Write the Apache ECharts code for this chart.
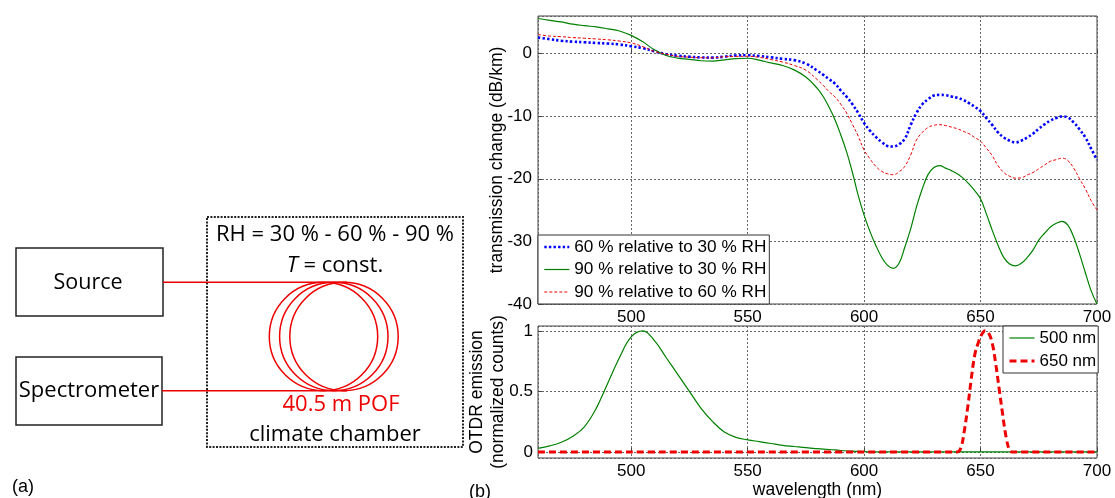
<!DOCTYPE html>
<html>
<head>
<meta charset="utf-8">
<script src="https://cdn.jsdelivr.net/npm/echarts@6/dist/echarts.min.js"></script>
<style>
html,body{margin:0;padding:0;background:#fff;}
#chart{width:1115px;height:498px;}
</style>
</head>
<body>
<div id="chart"></div>
<script>
// ---------- data ----------
const wavelength = [460,465,470,475,480,485,490,495,500,505,510,515,520,525,530,535,540,545,550,555,
  560,565,570,575,580,
  582.5,585,587.5,590,592.5,595,597.5,600,602.5,605,607.5,610,612.5,615,617.5,620,622.5,625,627.5,630,
  632.5,635,637.5,640,642.5,645,647.5,650,652.5,655,657.5,660,662.5,665,667.5,670,672.5,675,677.5,680,
  682.5,685,687.5,690,692.5,695,697.5,700];

const rel60to30 = [2.56,2.3,2.05,1.9,1.8,1.7,1.6,1.45,1.17,0.85,0.35,-0.1,-0.34,-0.5,-0.62,-0.65,-0.5,-0.3,-0.27,-0.4,
  -0.6,-0.85,-1.05,-1.6,-2.75,
  -3.4,-4.1,-4.8,-5.9,-6.9,-8.1,-9.5,-11.1,-12.3,-13.3,-14.1,-14.75,-14.85,-14.5,-13.6,-11.4,-9.5,-8.1,-7.3,-6.7,
  -6.6,-6.65,-6.85,-7.05,-7.4,-7.9,-8.5,-9.2,-10.3,-11.4,-12.6,-13.4,-13.9,-14.2,-13.9,-13.4,-12.8,-12.0,-11.3,-10.7,
  -10.3,-10.05,-10.2,-11.0,-12.1,-13.4,-15.2,-17.0];

const rel90to30 = [5.6,5.3,5.05,4.7,4.45,4.25,3.95,3.6,2.9,1.87,0.6,-0.3,-0.72,-0.92,-1.15,-1.2,-1.0,-0.8,-0.75,-1.05,
  -1.5,-1.9,-2.6,-3.75,-5.6,
  -6.9,-8.6,-10.56,-13.0,-15.7,-19.0,-22.7,-25.8,-28.4,-30.6,-32.5,-33.8,-34.3,-33.5,-30.9,-28.0,-24.5,-21.6,-19.3,-18.2,
  -17.9,-18.3,-18.7,-19.2,-19.9,-20.8,-21.9,-23.2,-25.6,-28.2,-30.6,-32.6,-33.6,-33.9,-33.5,-32.6,-31.4,-29.8,-28.7,-27.7,
  -27.1,-26.8,-27.4,-29.3,-32.0,-35.0,-37.9,-40.0];

const rel90to60 = [3.04,2.8,2.7,2.55,2.45,2.33,2.2,2.0,1.7,1.1,0.35,-0.1,-0.45,-0.57,-0.67,-0.68,-0.5,-0.45,-0.43,-0.6,
  -0.95,-1.35,-1.9,-2.65,-4.2,
  -5.1,-6.1,-6.93,-8.1,-9.5,-11.3,-13.2,-15.4,-16.8,-18.0,-18.8,-19.2,-19.35,-18.9,-18.0,-16.2,-13.8,-12.6,-11.8,-11.45,
  -11.36,-11.5,-11.75,-12.0,-12.4,-12.8,-13.4,-14.0,-15.1,-16.3,-17.9,-19.0,-19.6,-19.9,-19.85,-19.4,-19.0,-18.4,-17.8,-17.2,
  -16.95,-16.7,-17.1,-18.3,-20.0,-21.6,-23.5,-25.0];

const otdr500Wl = [460,465,470,475,480,485,490,495,500,505,510,515,520,525,530,535,540,545,550,555,
  560,565,570,575,580,585,590,595,600,605,700];
const otdr500 = [0.03,0.05,0.08,0.13,0.21,0.36,0.57,0.78,0.95,1.0,0.92,0.78,0.64,0.5,0.36,0.25,0.165,0.12,0.1,0.085,
  0.07,0.055,0.045,0.035,0.027,0.02,0.012,0.006,0.003,0,0];

const otdr650Wl = [460,640,641.5,643,644.5,646,647.5,649,650.5,652,653.5,655,656.5,658,659.5,661,662.5,663.5,700];
const otdr650 =   [0,0,0.03,0.17,0.37,0.6,0.8,0.9,0.97,1.0,0.98,0.9,0.73,0.52,0.31,0.12,0.01,0,0];

const topNames = ['60 % relative to 30 % RH','90 % relative to 30 % RH','90 % relative to 60 % RH'];
const bottomNames = ['500 nm','650 nm'];
const topYTitle = 'transmission change (dB/km)';
const bottomYTitle = 'OTDR emission\n(normalized counts)';
const xTitle = 'wavelength (nm)';

// ---------- chart ----------
const pair = (xs, ys) => xs.map((x, i) => [x, ys[i]]);
const FONT = "'Liberation Sans', Arial, sans-serif";
const DFONT = "'Open Sans', Lato, sans-serif";
const RED = '#ee0000';

const chart = echarts.init(document.getElementById('chart'), null, {renderer: 'canvas'});

const gridLine = {show: true, lineStyle: {color: '#666', type: [2, 2], width: 1}};
const tick = {show: true, inside: true, length: 4, lineStyle: {color: '#444'}};
const axisLbl = (extra) => Object.assign({color: '#000', fontFamily: FONT, fontSize: 17, margin: 4,
  showMinLabel: false, showMaxLabel: true}, extra || {});
const lineSeries = (name, xi, xs, ys, color, width, type) => ({
  name, type: 'line', xAxisIndex: xi, yAxisIndex: xi, data: pair(xs, ys),
  symbol: 'none', smooth: 0.4, color: color,
  lineStyle: {color: color, width: width, type: type}
});

const option = {
  animation: false,
  backgroundColor: '#fff',
  grid: [
    {left: 538, top: 16, width: 559, height: 288, show: true, borderColor: '#444', borderWidth: 1,
     containLabel: false, outerBoundsMode: 'none'},
    {left: 538, top: 326, width: 559, height: 132, show: true, borderColor: '#444', borderWidth: 1,
     containLabel: false, outerBoundsMode: 'none'}
  ],
  xAxis: [
    {type: 'value', gridIndex: 0, min: 460, max: 700, splitNumber: 5,
     axisLine: {show: false}, axisTick: tick, axisLabel: axisLbl({margin: 5}), splitLine: gridLine},
    {type: 'value', gridIndex: 1, min: 460, max: 700, splitNumber: 5,
     axisLine: {show: false}, axisTick: tick, axisLabel: axisLbl({margin: 5}), splitLine: gridLine,
     name: xTitle, nameLocation: 'middle', nameGap: 22,
     nameTextStyle: {color: '#000', fontFamily: FONT, fontSize: 17.5}}
  ],
  yAxis: [
    {type: 'value', gridIndex: 0, min: -40, max: 6, splitNumber: 5,
     axisLine: {show: false}, axisTick: tick,
     axisLabel: axisLbl({margin: 6, showMinLabel: true, showMaxLabel: false}), splitLine: gridLine,
     name: topYTitle, nameLocation: 'middle', nameGap: 32, nameMoveOverlap: false,
     nameTextStyle: {color: '#000', fontFamily: FONT, fontSize: 17.5}},
    {type: 'value', gridIndex: 1, min: -0.05, max: 1.04, splitNumber: 2,
     axisLine: {show: false}, axisTick: tick,
     axisLabel: axisLbl({margin: 5, showMinLabel: false, showMaxLabel: false,
       formatter: v => (Math.abs(v) < 1e-9 ? '0' : String(v))}),
     splitLine: gridLine,
     name: bottomYTitle, nameLocation: 'middle', nameGap: 29, nameMoveOverlap: false,
     nameTextStyle: {color: '#000', fontFamily: FONT, fontSize: 17.5, lineHeight: 21}}
  ],
  legend: [
    {data: topNames, orient: 'vertical', left: 538, top: 235, itemGap: 4.5, itemWidth: 25, itemHeight: 14,
     padding: [3, 3, 3, 5], borderColor: '#333', borderWidth: 1, borderRadius: 0, backgroundColor: '#fff',
     selectedMode: false, itemStyle: {opacity: 0}, lineStyle: {width: 'inherit'},
     textStyle: {color: '#000', fontFamily: FONT, fontSize: 17.2, lineHeight: 18}},
    {data: bottomNames, orient: 'vertical', left: 1003, top: 326, itemGap: 5, itemWidth: 25, itemHeight: 14,
     padding: [3, 2, 3, 5], borderColor: '#333', borderWidth: 1, borderRadius: 0, backgroundColor: '#fff',
     selectedMode: false, itemStyle: {opacity: 0}, lineStyle: {width: 'inherit'},
     textStyle: {color: '#000', fontFamily: FONT, fontSize: 17, lineHeight: 18}}
  ],
  series: [
    lineSeries(topNames[0], 0, wavelength, rel60to30, '#0000ff', 2.6, [2.4, 2.2]),
    lineSeries(topNames[1], 0, wavelength, rel90to30, '#008000', 1.2, 'solid'),
    lineSeries(topNames[2], 0, wavelength, rel90to60, RED, 1, [3, 2]),
    lineSeries(bottomNames[0], 1, otdr500Wl, otdr500, '#008000', 1.2, 'solid'),
    lineSeries(bottomNames[1], 1, otdr650Wl, otdr650, RED, 3, [7, 4])
  ],
  graphic: {elements: [
    // source & spectrometer boxes
    {type: 'rect', shape: {x: 16, y: 248, width: 147, height: 68}, style: {fill: 'none', stroke: '#222', lineWidth: 1.5}},
    {type: 'rect', shape: {x: 16, y: 357, width: 146, height: 68}, style: {fill: 'none', stroke: '#222', lineWidth: 1.5}},
    {type: 'text', x: 88, y: 283, style: {text: 'Source', font: '21.5px ' + DFONT, fill: '#000', align: 'center', verticalAlign: 'middle'}},
    {type: 'text', x: 89, y: 391, style: {text: 'Spectrometer', font: '22px ' + DFONT, fill: '#000', align: 'center', verticalAlign: 'middle'}},
    // climate chamber dotted box
    {type: 'rect', shape: {x: 207, y: 217, width: 256, height: 230}, style: {fill: 'none', stroke: '#222', lineWidth: 2, lineDash: [2, 1.4]}},
    {type: 'text', x: 335, y: 235, style: {text: 'RH = 30 % - 60 % - 90 %', font: '22px ' + DFONT, fill: '#000', align: 'center', verticalAlign: 'middle'}},
    {type: 'text', x: 335, y: 266, style: {text: '{i|T} = const.', font: '22px ' + DFONT, fill: '#000', align: 'center', verticalAlign: 'middle',
      rich: {i: {fontStyle: 'italic', fontFamily: DFONT, fontSize: 22, fill: '#000'}}}},
    // fibre lines & coil
    {type: 'line', shape: {x1: 163, y1: 282.3, x2: 347, y2: 282.3}, style: {stroke: RED, lineWidth: 1.5}},
    {type: 'line', shape: {x1: 162, y1: 390.7, x2: 347, y2: 390.7}, style: {stroke: RED, lineWidth: 1.5}},
    {type: 'circle', shape: {cx: 323.5, cy: 336.5, r: 54.2}, style: {fill: 'none', stroke: RED, lineWidth: 1.5}},
    {type: 'circle', shape: {cx: 333.8, cy: 336.5, r: 54.2}, style: {fill: 'none', stroke: RED, lineWidth: 1.5}},
    {type: 'circle', shape: {cx: 344, cy: 336.5, r: 54.2}, style: {fill: 'none', stroke: RED, lineWidth: 1.5}},
    {type: 'text', x: 341, y: 405, style: {text: '40.5 m POF', font: '22px ' + DFONT, fill: RED, align: 'center', verticalAlign: 'middle'}},
    {type: 'text', x: 335, y: 435, style: {text: 'climate chamber', font: '22px ' + DFONT, fill: '#000', align: 'center', verticalAlign: 'middle'}},
    // panel labels
    {type: 'text', x: 12, y: 487, style: {text: '(a)', font: '18px ' + FONT, fill: '#000', align: 'left', verticalAlign: 'middle'}},
    {type: 'text', x: 469, y: 492, style: {text: '(b)', font: '18px ' + FONT, fill: '#000', align: 'left', verticalAlign: 'middle'}}
  ]}
};

chart.setOption(option);
</script>
</body>
</html>
